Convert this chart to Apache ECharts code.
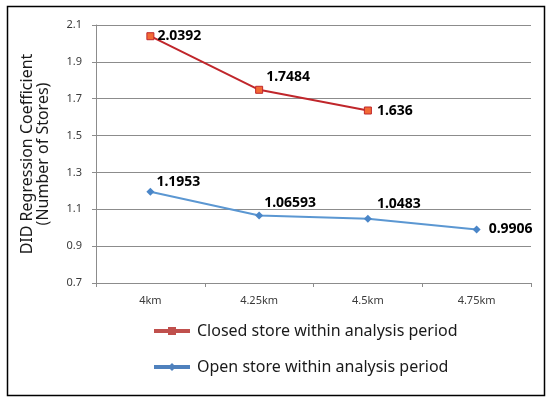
<!DOCTYPE html>
<html>
<head>
<meta charset="utf-8">
<script src="https://cdn.jsdelivr.net/npm/echarts@6/dist/echarts.min.js"></script>
<style>html,body{margin:0;padding:0;background:#fff}#c{width:550px;height:401px}</style>
</head>
<body>
<div id="c"></div>
<script>
var categories = ['4km', '4.25km', '4.5km', '4.75km'];
var closedValues = [2.0392, 1.7484, 1.636, null];
var openValues = [1.1953, 1.06593, 1.0483, 0.9906];
var closedLabels = ['2.0392', '1.7484', '1.636', ''];
var openLabels = ['1.1953', '1.06593', '1.0483', '0.9906'];
var seriesNames = ['Closed store within analysis period', 'Open store within analysis period'];
var yTicks = { min: 0.7, max: 2.1, interval: 0.2 };

var closedLabelPos = [
  { position: 'right', offset: [-2, 0] },
  { position: 'right', offset: [-2, -13] },
  { position: 'right', offset: [0, 1] },
  { position: 'right', offset: [0, 0] }
];
var openLabelPos = [
  { position: 'right', offset: [-3, -10] },
  { position: 'right', offset: [-4, -13] },
  { position: 'right', offset: [0, -15] },
  { position: 'right', offset: [3, 0] }
];

function build(values, labels, pos) {
  return values.map(function (v, i) {
    return {
      value: v,
      label: {
        show: v !== null,
        position: pos[i].position,
        offset: pos[i].offset,
        formatter: function () { return labels[i]; }
      }
    };
  });
}

var chart = echarts.init(document.getElementById('c'));
var labelStyle = { fontFamily: 'Noto Sans', fontWeight: 'bold', fontSize: 14, color: '#000' };
chart.setOption({
  animation: false,
  backgroundColor: '#fff',
  graphic: [{
    type: 'rect', left: 5, top: 4, z: -1,
    shape: { width: 537, height: 389 },
    style: { fill: 'none', stroke: '#000', lineWidth: 1.5 }
  }],
  grid: { left: 96, right: 19, top: 25, bottom: 118 },
  legend: {
    orient: 'vertical',
    left: 147,
    top: 318,
    itemWidth: 36,
    itemHeight: 10,
    itemGap: 20,
    lineStyle: { width: 4 },
    textStyle: { fontFamily: 'Noto Sans', fontSize: 16, color: '#1a1a1a', padding: [0, 0, 0, 2] },
    data: [
      { name: seriesNames[0], itemStyle: { color: '#c0504d', borderWidth: 0 }, lineStyle: { color: '#c0504d', width: 4 } },
      { name: seriesNames[1], itemStyle: { color: '#4f81bd', borderWidth: 0 }, lineStyle: { color: '#4f81bd', width: 4 } }
    ]
  },
  xAxis: {
    type: 'category',
    data: categories,
    boundaryGap: true,
    axisLine: { lineStyle: { color: '#8c8c8c', width: 1 } },
    axisTick: { show: true, length: 4, lineStyle: { color: '#8c8c8c' } },
    axisLabel: { fontFamily: 'Noto Sans', fontSize: 11, color: '#3a3a3a', margin: 12 }
  },
  yAxis: {
    type: 'value',
    min: yTicks.min,
    max: yTicks.max,
    interval: yTicks.interval,
    name: 'DID Regression Coefficient\n(Number of Stores)',
    nameLocation: 'middle',
    nameGap: 45,
    nameTextStyle: { fontFamily: 'Noto Sans', fontSize: 16, color: '#1a1a1a', lineHeight: 16 },
    axisLine: { show: true, lineStyle: { color: '#8c8c8c', width: 1 } },
    axisTick: { show: true, length: 4, lineStyle: { color: '#8c8c8c' } },
    splitLine: { lineStyle: { color: '#8c8c8c', width: 1 } },
    axisLabel: {
      fontFamily: 'Noto Sans', fontSize: 11, color: '#3a3a3a', margin: 14,
      formatter: function (v) { return (Math.round(v * 10) / 10).toString(); }
    }
  },
  series: [
    {
      name: seriesNames[0],
      type: 'line',
      data: build(closedValues, closedLabels, closedLabelPos),
      symbol: 'rect',
      symbolSize: 7,
      lineStyle: { color: '#c0262b', width: 2 },
      itemStyle: { color: '#f26a35', borderColor: '#c0262b', borderWidth: 1 },
      label: labelStyle
    },
    {
      name: seriesNames[1],
      type: 'line',
      data: build(openValues, openLabels, openLabelPos),
      symbol: 'diamond',
      symbolSize: 8,
      lineStyle: { color: '#5b97d2', width: 2 },
      itemStyle: { color: '#4a86c8', borderColor: '#4a86c8', borderWidth: 0 },
      label: labelStyle
    }
  ]
});
</script>
</body>
</html>
